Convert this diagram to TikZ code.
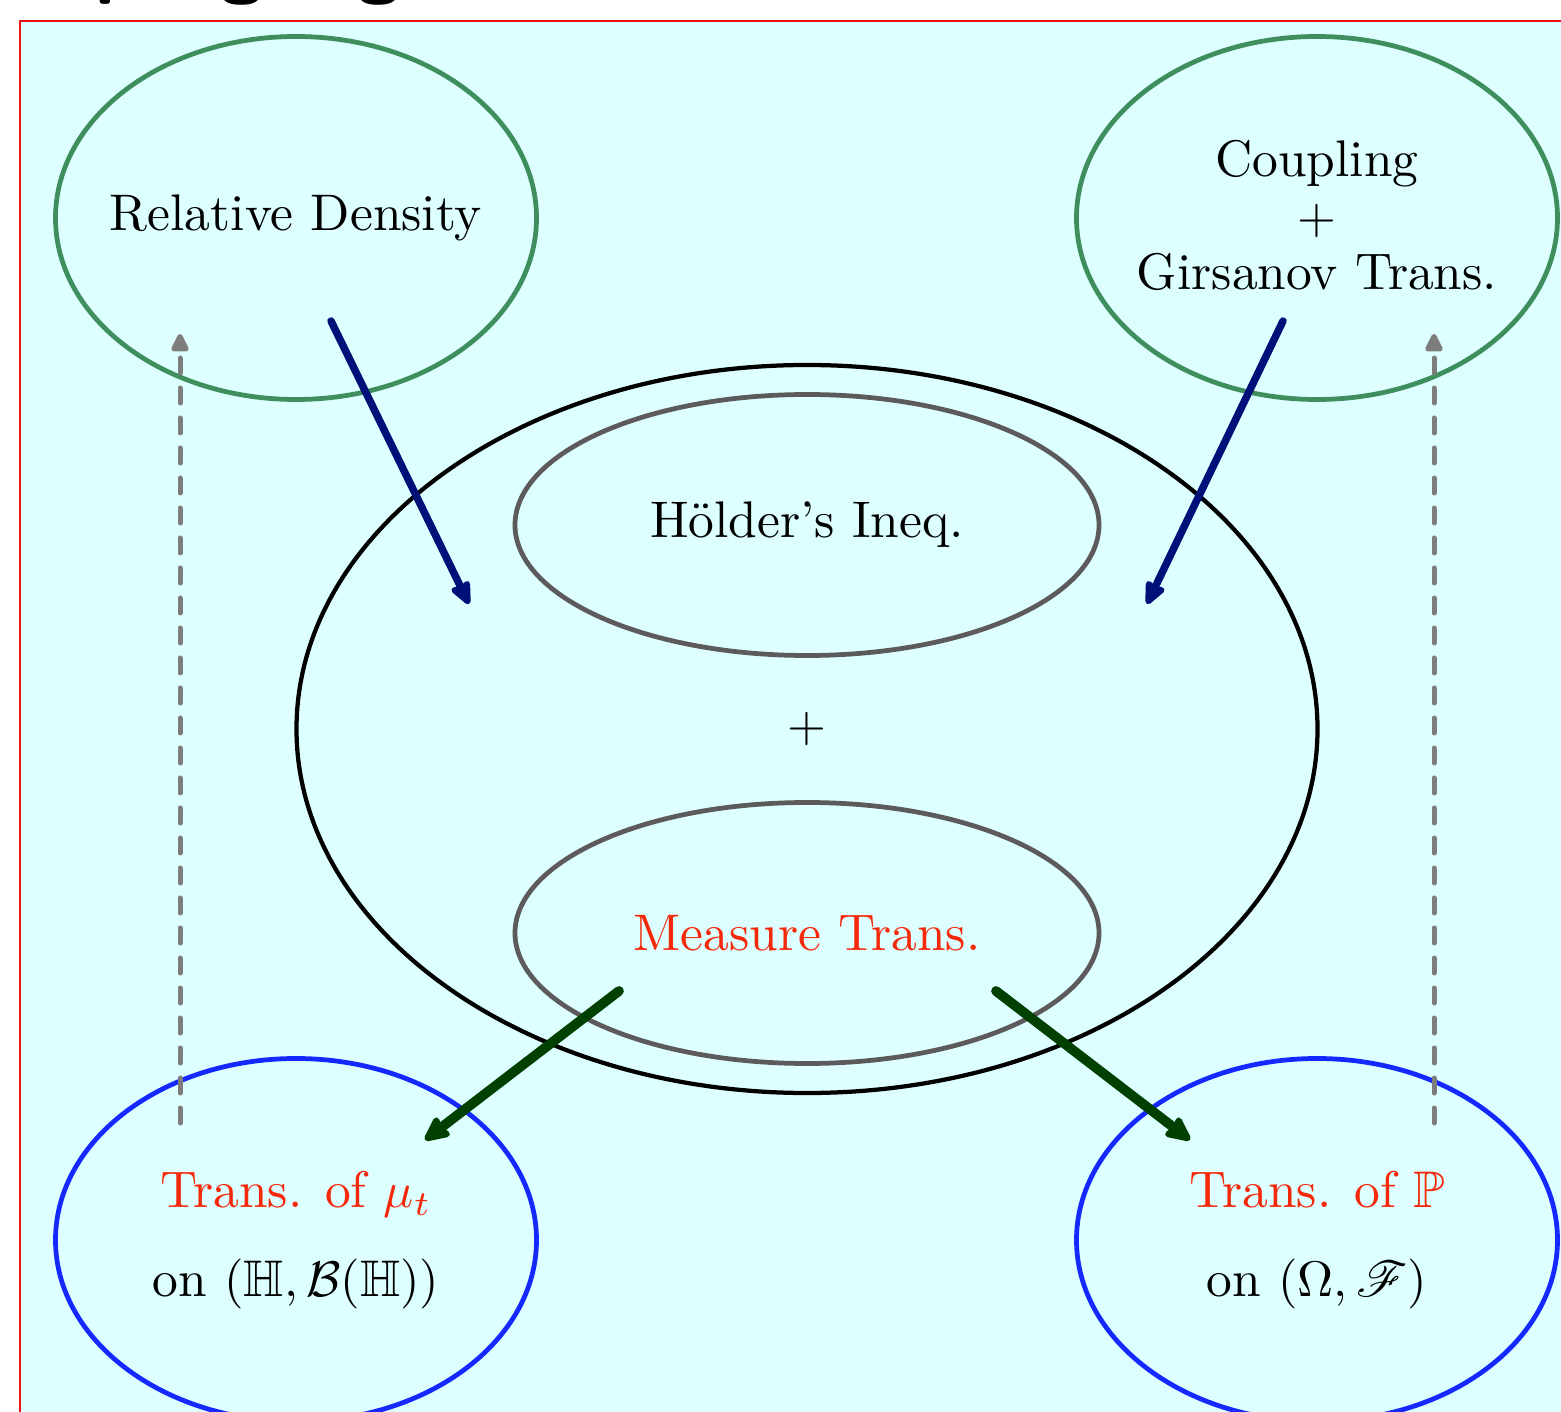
\documentclass[tikz,border=0pt]{standalone}
\usepackage{amssymb,mathrsfs}
\usetikzlibrary{shapes.geometric,arrows.meta}
\definecolor{bgcyan}{RGB}{221,255,255}
\definecolor{framered}{RGB}{235,20,20}
\definecolor{ellgreen}{RGB}{62,142,94}
\definecolor{ellblue}{RGB}{20,40,255}
\definecolor{navyarrow}{RGB}{0,16,120}
\definecolor{dkgreenarrow}{RGB}{0,64,0}
\definecolor{ellgray}{RGB}{92,90,92}
\definecolor{redtext}{RGB}{245,40,10}
\definecolor{dashgray}{RGB}{125,125,125}
\begin{document}
\begin{tikzpicture}[x=0.2pt,y=-0.2pt,
  every node/.style={font=\fontsize{10.3}{11.3}\selectfont},
  ell/.style={ellipse, inner sep=0pt, line width=0.95pt},
  lbl/.style={align=center},
  greenell/.style={ell, draw=ellgreen, minimum width=96.2pt, minimum height=72.6pt},
  blueell/.style={ell, draw=ellblue, minimum width=96.2pt, minimum height=72.6pt},
  grayell/.style={ell, draw=ellgray, minimum width=116.8pt, minimum height=52.2pt},
  bigell/.style={ell, draw=black, line width=0.85pt, minimum width=204.2pt, minimum height=145.6pt},
  navyarr/.style={draw=navyarrow, line width=1.5pt, line cap=round,
    -{Stealth[length=5.6pt,width=4.8pt,inset=0.8pt,round]}},
  greenarr/.style={draw=dkgreenarrow, line width=1.95pt, line cap=round,
    -{Stealth[length=6pt,width=5.6pt,inset=0.9pt,round]}},
  dasharr/.style={draw=dashgray, line width=1pt, dashed, line cap=round,
    -{Triangle[length=4.2pt,width=3.8pt,round]}}]
\useasboundingbox (0,0) rectangle (1561,1412);
% title (cut off at top)
\node[anchor=base west, inner sep=0pt, font=\fontsize{15.3}{18}\selectfont\sffamily\bfseries] (title) at (-44,-10) {Coupling argument};
% background frame
\draw[framered, line width=0.3pt, fill=bgcyan] (20,21) rectangle (1700,1500);
% ellipses
\node[bigell] (big) at (807,729) {};
\node[grayell, label={[lbl]center:H\"older's Ineq.}] (holder) at (807,525) {};
\node (plus) at (807,729) {$+$};
\node[grayell, label={[lbl, text=redtext]center:Measure Trans.}] (measure) at (807,933) {};
\node[greenell, label={[lbl]center:Relative Density}] (reldens) at (296,218) {};
\node[greenell, label={[lbl, yshift=0.5pt]center:Coupling\\$+$\\Girsanov Trans.}] (coupling) at (1317,218) {};
\node[blueell, label={[lbl]center:\textcolor{redtext}{Trans. of $\mu_t$}\\[6.4pt]on $(\mathbb{H},\mathcal{B}(\mathbb{H}))$}] (transmu) at (296,1240) {};
\node[blueell, label={[lbl]center:\textcolor{redtext}{Trans. of $\mathbb{P}$}\\[6.4pt]on $(\Omega,\mathscr{F})$}] (transP) at (1317,1240) {};
% arrow end points
\coordinate (a1s) at (331,321);
\coordinate (a1e) at (469,604);
\coordinate (a2s) at (1283,321);
\coordinate (a2e) at (1147,604);
\coordinate (g1s) at (619,991);
\coordinate (g1e) at (425,1140);
\coordinate (g2s) at (996,991);
\coordinate (g2e) at (1190,1140);
\coordinate (d1s) at (180,1123);
\coordinate (d1e) at (180,334);
\coordinate (d2s) at (1434,1123);
\coordinate (d2e) at (1434,334);
% arrows
\draw[navyarr] (a1s) -- (a1e);
\draw[navyarr] (a2s) -- (a2e);
\draw[greenarr] (g1s) -- (g1e);
\draw[greenarr] (g2s) -- (g2e);
\draw[dasharr] (d1s) -- (d1e);
\draw[dasharr] (d2s) -- (d2e);
\end{tikzpicture}
\end{document}
